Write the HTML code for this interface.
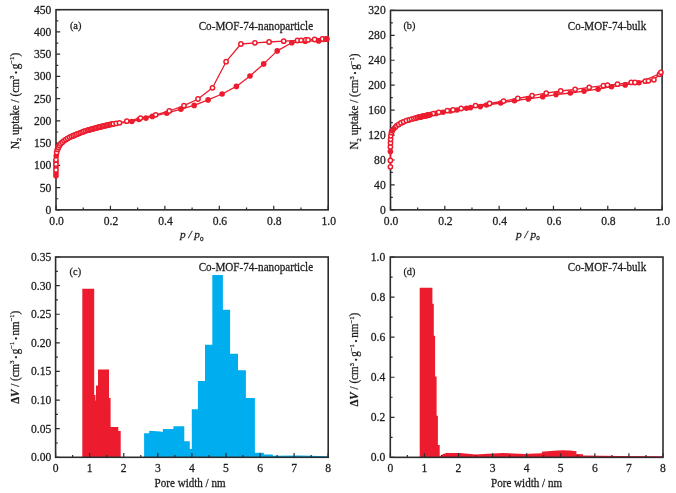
<!DOCTYPE html>
<html><head><meta charset="utf-8"><title>Figure</title>
<style>html,body{margin:0;padding:0;background:#fff}svg{display:block}text{stroke:#1c1c1c;stroke-width:.26px}</style></head>
<body>
<svg width="676" height="493" viewBox="0 0 676 493" font-family="'Liberation Serif', 'DejaVu Serif', serif" fill="#1c1c1c">
<rect width="676" height="493" fill="#fff"/>
<polygon points="82.3,457.3 82.3,288.8 94.2,288.8 94.2,395 95.5,395 95.5,400.5 96,400.5 96,385.5 98,385.5 98,369.4 109,369.4 109,398 110.6,398 110.6,427 118.3,427 118.3,431 120.7,431 120.7,457.3" fill="#ec1c2e"/>
<polygon points="144.1,457.3 144.1,433.3 149.2,433.3 149.2,430.8 160.6,431.4 160.6,431.8 162.9,431.8 162.9,429 173.4,429 173.4,426.2 184.3,426.2 184.3,441.2 189.8,441.2 189.8,449 191.8,449 191.8,409.3 197.9,409.3 197.9,380.9 205,380.9 205,344.7 212.3,344.7 212.3,275 222.9,275 222.9,309.7 230.1,309.7 230.1,353.8 238,353.8 238,370.3 245.9,370.3 245.9,398 254.9,398 254.9,452.8 263.8,452.8 263.8,454.4 272.8,454.4 272.8,455.8 300,455.6 328.2,456.2 328.2,457.3" fill="#00aeef"/>
<polygon points="419.7,457.35 419.7,287.8 432.4,287.8 432.4,303.8 433.8,303.8 433.8,335.8 435.1,335.8 435.1,376.4 436.6,376.4 436.6,415.7 437.9,415.7 437.9,445 439.7,445 439.7,456.2 440.9,456.2 442,454.6 446.4,452.9 460,452.9 468,453.8 475.5,454.5 488,453.8 502.8,453 514,453.5 524.6,454.1 535,453.6 541.9,453.2 541.9,451.8 553.8,450.7 562.4,450.3 570,450.6 576.4,451.2 576.4,454 583,454.2 583,455.6 620,455.9 663,456.2 663,457.35" fill="#ec1c2e"/>
<rect x="56" y="9.7" width="272.2" height="200.15" fill="none" stroke="#2a2c2f" stroke-width="1.6"/>
<rect x="390.5" y="10.4" width="271.6" height="199.45" fill="none" stroke="#2a2c2f" stroke-width="1.6"/>
<rect x="55.6" y="257" width="272.6" height="200.3" fill="none" stroke="#2a2c2f" stroke-width="1.6"/>
<rect x="390.3" y="257.05" width="272.7" height="200.3" fill="none" stroke="#2a2c2f" stroke-width="1.6"/>
<path d="M56 209.85V205.65M83.22 209.85V207.55M110.44 209.85V205.65M137.66 209.85V207.55M164.88 209.85V205.65M192.1 209.85V207.55M219.32 209.85V205.65M246.54 209.85V207.55M273.76 209.85V205.65M300.98 209.85V207.55M328.2 209.85V205.65M56 209.85H60.2M56 198.73H58.3M56 187.61H60.2M56 176.49H58.3M56 165.37H60.2M56 154.25H58.3M56 143.13H60.2M56 132.01H58.3M56 120.89H60.2M56 109.77H58.3M56 98.66H60.2M56 87.54H58.3M56 76.42H60.2M56 65.3H58.3M56 54.18H60.2M56 43.06H58.3M56 31.94H60.2M56 20.82H58.3M56 9.7H60.2" stroke="#2a2c2f" stroke-width="1.2" fill="none"/>
<text x="56.6" y="225.25" text-anchor="middle" font-size="11.6">0.0</text>
<text x="111.04" y="225.25" text-anchor="middle" font-size="11.6">0.2</text>
<text x="165.48" y="225.25" text-anchor="middle" font-size="11.6">0.4</text>
<text x="219.92" y="225.25" text-anchor="middle" font-size="11.6">0.6</text>
<text x="274.36" y="225.25" text-anchor="middle" font-size="11.6">0.8</text>
<text x="328.8" y="225.25" text-anchor="middle" font-size="11.6">1.0</text>
<text x="51.3" y="213.75" text-anchor="end" font-size="11.6">0</text>
<text x="51.3" y="191.51" text-anchor="end" font-size="11.6">50</text>
<text x="51.3" y="169.27" text-anchor="end" font-size="11.6">100</text>
<text x="51.3" y="147.03" text-anchor="end" font-size="11.6">150</text>
<text x="51.3" y="124.79" text-anchor="end" font-size="11.6">200</text>
<text x="51.3" y="102.56" text-anchor="end" font-size="11.6">250</text>
<text x="51.3" y="80.32" text-anchor="end" font-size="11.6">300</text>
<text x="51.3" y="58.08" text-anchor="end" font-size="11.6">350</text>
<text x="51.3" y="35.84" text-anchor="end" font-size="11.6">400</text>
<text x="51.3" y="13.6" text-anchor="end" font-size="11.6">450</text>
<path d="M390.5 209.85V205.65M417.66 209.85V207.55M444.82 209.85V205.65M471.98 209.85V207.55M499.14 209.85V205.65M526.3 209.85V207.55M553.46 209.85V205.65M580.62 209.85V207.55M607.78 209.85V205.65M634.94 209.85V207.55M662.1 209.85V205.65M390.5 209.85H394.7M390.5 197.38H392.8M390.5 184.92H394.7M390.5 172.45H392.8M390.5 159.99H394.7M390.5 147.52H392.8M390.5 135.06H394.7M390.5 122.59H392.8M390.5 110.12H394.7M390.5 97.66H392.8M390.5 85.19H394.7M390.5 72.73H392.8M390.5 60.26H394.7M390.5 47.8H392.8M390.5 35.33H394.7M390.5 22.87H392.8M390.5 10.4H394.7" stroke="#2a2c2f" stroke-width="1.2" fill="none"/>
<text x="391.1" y="225.25" text-anchor="middle" font-size="11.6">0.0</text>
<text x="445.42" y="225.25" text-anchor="middle" font-size="11.6">0.2</text>
<text x="499.74" y="225.25" text-anchor="middle" font-size="11.6">0.4</text>
<text x="554.06" y="225.25" text-anchor="middle" font-size="11.6">0.6</text>
<text x="608.38" y="225.25" text-anchor="middle" font-size="11.6">0.8</text>
<text x="662.7" y="225.25" text-anchor="middle" font-size="11.6">1.0</text>
<text x="385.7" y="213.75" text-anchor="end" font-size="11.6">0</text>
<text x="385.7" y="188.82" text-anchor="end" font-size="11.6">40</text>
<text x="385.7" y="163.89" text-anchor="end" font-size="11.6">80</text>
<text x="385.7" y="138.96" text-anchor="end" font-size="11.6">120</text>
<text x="385.7" y="114.03" text-anchor="end" font-size="11.6">160</text>
<text x="385.7" y="89.09" text-anchor="end" font-size="11.6">200</text>
<text x="385.7" y="64.16" text-anchor="end" font-size="11.6">240</text>
<text x="385.7" y="39.23" text-anchor="end" font-size="11.6">280</text>
<text x="385.7" y="14.3" text-anchor="end" font-size="11.6">320</text>
<path d="M55.6 457.3V453.1M72.64 457.3V455M89.67 457.3V453.1M106.71 457.3V455M123.75 457.3V453.1M140.79 457.3V455M157.82 457.3V453.1M174.86 457.3V455M191.9 457.3V453.1M208.94 457.3V455M225.97 457.3V453.1M243.01 457.3V455M260.05 457.3V453.1M277.09 457.3V455M294.12 457.3V453.1M311.16 457.3V455M328.2 457.3V453.1M55.6 457.3H59.8M55.6 442.99H57.9M55.6 428.69H59.8M55.6 414.38H57.9M55.6 400.07H59.8M55.6 385.76H57.9M55.6 371.46H59.8M55.6 357.15H57.9M55.6 342.84H59.8M55.6 328.54H57.9M55.6 314.23H59.8M55.6 299.92H57.9M55.6 285.61H59.8M55.6 271.31H57.9M55.6 257H59.8" stroke="#2a2c2f" stroke-width="1.2" fill="none"/>
<text x="55.6" y="471.8" text-anchor="middle" font-size="11.6">0</text>
<text x="89.67" y="471.8" text-anchor="middle" font-size="11.6">1</text>
<text x="123.75" y="471.8" text-anchor="middle" font-size="11.6">2</text>
<text x="157.82" y="471.8" text-anchor="middle" font-size="11.6">3</text>
<text x="191.9" y="471.8" text-anchor="middle" font-size="11.6">4</text>
<text x="225.97" y="471.8" text-anchor="middle" font-size="11.6">5</text>
<text x="260.05" y="471.8" text-anchor="middle" font-size="11.6">6</text>
<text x="294.12" y="471.8" text-anchor="middle" font-size="11.6">7</text>
<text x="328.2" y="471.8" text-anchor="middle" font-size="11.6">8</text>
<text x="51.3" y="461.2" text-anchor="end" font-size="11.6">0.00</text>
<text x="51.3" y="432.59" text-anchor="end" font-size="11.6">0.05</text>
<text x="51.3" y="403.97" text-anchor="end" font-size="11.6">0.10</text>
<text x="51.3" y="375.36" text-anchor="end" font-size="11.6">0.15</text>
<text x="51.3" y="346.74" text-anchor="end" font-size="11.6">0.20</text>
<text x="51.3" y="318.13" text-anchor="end" font-size="11.6">0.25</text>
<text x="51.3" y="289.51" text-anchor="end" font-size="11.6">0.30</text>
<text x="51.3" y="260.9" text-anchor="end" font-size="11.6">0.35</text>
<path d="M390.3 457.35V453.15M407.34 457.35V455.05M424.39 457.35V453.15M441.43 457.35V455.05M458.48 457.35V453.15M475.52 457.35V455.05M492.56 457.35V453.15M509.61 457.35V455.05M526.65 457.35V453.15M543.69 457.35V455.05M560.74 457.35V453.15M577.78 457.35V455.05M594.83 457.35V453.15M611.87 457.35V455.05M628.91 457.35V453.15M645.96 457.35V455.05M663 457.35V453.15M390.3 457.35H394.5M390.3 437.32H392.6M390.3 417.29H394.5M390.3 397.26H392.6M390.3 377.23H394.5M390.3 357.2H392.6M390.3 337.17H394.5M390.3 317.14H392.6M390.3 297.11H394.5M390.3 277.08H392.6M390.3 257.05H394.5" stroke="#2a2c2f" stroke-width="1.2" fill="none"/>
<text x="390.3" y="471.85" text-anchor="middle" font-size="11.6">0</text>
<text x="424.39" y="471.85" text-anchor="middle" font-size="11.6">1</text>
<text x="458.48" y="471.85" text-anchor="middle" font-size="11.6">2</text>
<text x="492.56" y="471.85" text-anchor="middle" font-size="11.6">3</text>
<text x="526.65" y="471.85" text-anchor="middle" font-size="11.6">4</text>
<text x="560.74" y="471.85" text-anchor="middle" font-size="11.6">5</text>
<text x="594.83" y="471.85" text-anchor="middle" font-size="11.6">6</text>
<text x="628.91" y="471.85" text-anchor="middle" font-size="11.6">7</text>
<text x="663" y="471.85" text-anchor="middle" font-size="11.6">8</text>
<text x="385.2" y="461.25" text-anchor="end" font-size="11.6">0.0</text>
<text x="385.2" y="421.19" text-anchor="end" font-size="11.6">0.2</text>
<text x="385.2" y="381.13" text-anchor="end" font-size="11.6">0.4</text>
<text x="385.2" y="341.07" text-anchor="end" font-size="11.6">0.6</text>
<text x="385.2" y="301.01" text-anchor="end" font-size="11.6">0.8</text>
<text x="385.2" y="260.95" text-anchor="end" font-size="11.6">1.0</text>
<g stroke="#ec1c2e" stroke-width="1.3" fill="none" stroke-linejoin="round">
<polyline points="55.95,175.7 55.95,165 56.05,158 56.65,152.5 57.6,149 58.7,146.6 60.1,144.3 62.2,142.3 64.6,140.3 67,138.8 69.5,137.4 71.9,136.2 74.3,135.3 76.4,134.4 78.4,133.6 82.5,132 85,131 90,129.6 95.7,128 101.2,126.6 107,125.2 113.4,123.9 131.8,121.5 139,119.5 146,118.1 152.3,116.4 166.8,113.2 180.9,109.2 194.2,105.4 208.1,99.9 222.1,94 236.4,86.4 250,76 263.7,63.9 277.2,50.9 291.8,42.8 305.2,41.2 318.7,40.8 323.6,39.5 326.8,38.9"/>
<polyline points="55.95,175.7 55.95,165 56.05,158 56.65,152.5 57.6,149 58.7,146.6 60.1,144.3 62.2,142.3 64.6,140.3 67,138.8 69.5,137.4 71.9,136.2 74.3,135.3 76.4,134.4 78.4,133.6 82.5,132 85,131 90,129.6 95.7,128 101.2,126.6 107,125.2 113.4,123.9 116.2,123.4 119.5,122.8 126.8,121.2 140.5,118.1 155.7,114.8 169.3,111 184,105.7 198,99 212.5,87.8 226.1,61.7 240.9,44 254.9,42.8 269.1,42 283.7,41.2 297.5,40.5 301.1,40.3 305.7,40 308.1,39.9 314.6,39.5 322.4,39 326,38.9"/>
</g>
<g fill="#ec1c2e">
<circle cx="55.95" cy="175.7" r="2.80"/>
<circle cx="55.95" cy="173" r="2.80"/>
<circle cx="55.95" cy="167.1" r="2.80"/>
<circle cx="56" cy="162" r="2.80"/>
<circle cx="56.2" cy="156" r="2.80"/>
<circle cx="57.48" cy="149.44" r="2.80"/>
<circle cx="59.38" cy="145.49" r="2.80"/>
<circle cx="62.28" cy="142.23" r="2.80"/>
<circle cx="65.77" cy="139.57" r="2.80"/>
<circle cx="69.58" cy="137.36" r="2.80"/>
<circle cx="73.31" cy="135.67" r="2.80"/>
<circle cx="76.82" cy="134.23" r="2.80"/>
<circle cx="80.36" cy="132.84" r="2.80"/>
<circle cx="83.89" cy="131.44" r="2.80"/>
<circle cx="87.51" cy="130.3" r="2.80"/>
<circle cx="90.21" cy="129.54" r="2.80"/>
<circle cx="92.9" cy="128.78" r="2.80"/>
<circle cx="95.6" cy="128.03" r="2.80"/>
<circle cx="98.31" cy="127.33" r="2.80"/>
<circle cx="101.03" cy="126.64" r="2.80"/>
<circle cx="103.75" cy="125.99" r="2.80"/>
<circle cx="106.47" cy="125.33" r="2.80"/>
<circle cx="109.21" cy="124.75" r="2.80"/>
<circle cx="111.95" cy="124.19" r="2.80"/>
<circle cx="131.8" cy="121.5" r="2.80"/>
<circle cx="139" cy="119.5" r="2.80"/>
<circle cx="146" cy="118.1" r="2.80"/>
<circle cx="152.3" cy="116.4" r="2.80"/>
<circle cx="166.8" cy="113.2" r="2.80"/>
<circle cx="180.9" cy="109.2" r="2.80"/>
<circle cx="194.2" cy="105.4" r="2.80"/>
<circle cx="208.1" cy="99.9" r="2.80"/>
<circle cx="222.1" cy="94" r="2.80"/>
<circle cx="236.4" cy="86.4" r="2.80"/>
<circle cx="250" cy="76" r="2.80"/>
<circle cx="263.7" cy="63.9" r="2.80"/>
<circle cx="277.2" cy="50.9" r="2.80"/>
<circle cx="291.8" cy="42.8" r="2.80"/>
<circle cx="305.2" cy="41.2" r="2.80"/>
<circle cx="318.7" cy="40.8" r="2.80"/>
<circle cx="323.6" cy="39.5" r="2.80"/>
<circle cx="326.8" cy="38.9" r="2.80"/>
</g>
<g fill="#fff" stroke="#ec1c2e" stroke-width="1.5">
<circle cx="55.95" cy="170" r="2.15"/>
<circle cx="55.95" cy="164.2" r="2.15"/>
<circle cx="56" cy="159.8" r="2.15"/>
<circle cx="56.65" cy="152.5" r="2.15"/>
<circle cx="57.48" cy="149.44" r="2.15"/>
<circle cx="58.32" cy="147.42" r="2.15"/>
<circle cx="59.38" cy="145.49" r="2.15"/>
<circle cx="60.68" cy="143.74" r="2.15"/>
<circle cx="62.28" cy="142.23" r="2.15"/>
<circle cx="63.97" cy="140.82" r="2.15"/>
<circle cx="65.77" cy="139.57" r="2.15"/>
<circle cx="67.66" cy="138.43" r="2.15"/>
<circle cx="69.58" cy="137.36" r="2.15"/>
<circle cx="71.55" cy="136.38" r="2.15"/>
<circle cx="73.31" cy="135.67" r="2.15"/>
<circle cx="75.07" cy="134.97" r="2.15"/>
<circle cx="76.82" cy="134.23" r="2.15"/>
<circle cx="78.59" cy="133.53" r="2.15"/>
<circle cx="80.36" cy="132.84" r="2.15"/>
<circle cx="82.13" cy="132.14" r="2.15"/>
<circle cx="83.89" cy="131.44" r="2.15"/>
<circle cx="85.68" cy="130.81" r="2.15"/>
<circle cx="87.51" cy="130.3" r="2.15"/>
<circle cx="88.86" cy="129.92" r="2.15"/>
<circle cx="90.21" cy="129.54" r="2.15"/>
<circle cx="91.56" cy="129.16" r="2.15"/>
<circle cx="92.9" cy="128.78" r="2.15"/>
<circle cx="94.25" cy="128.41" r="2.15"/>
<circle cx="95.6" cy="128.03" r="2.15"/>
<circle cx="96.96" cy="127.68" r="2.15"/>
<circle cx="98.31" cy="127.33" r="2.15"/>
<circle cx="99.67" cy="126.99" r="2.15"/>
<circle cx="101.03" cy="126.64" r="2.15"/>
<circle cx="102.39" cy="126.31" r="2.15"/>
<circle cx="103.75" cy="125.99" r="2.15"/>
<circle cx="105.11" cy="125.66" r="2.15"/>
<circle cx="106.47" cy="125.33" r="2.15"/>
<circle cx="107.84" cy="125.03" r="2.15"/>
<circle cx="109.21" cy="124.75" r="2.15"/>
<circle cx="110.58" cy="124.47" r="2.15"/>
<circle cx="111.95" cy="124.19" r="2.15"/>
<circle cx="113.33" cy="123.92" r="2.15"/>
<circle cx="116.2" cy="123.4" r="2.15"/>
<circle cx="119.5" cy="122.8" r="2.15"/>
<circle cx="126.8" cy="121.2" r="2.15"/>
<circle cx="140.5" cy="118.1" r="2.15"/>
<circle cx="155.7" cy="114.8" r="2.15"/>
<circle cx="169.3" cy="111" r="2.15"/>
<circle cx="184" cy="105.7" r="2.15"/>
<circle cx="198" cy="99" r="2.15"/>
<circle cx="212.5" cy="87.8" r="2.15"/>
<circle cx="226.1" cy="61.7" r="2.15"/>
<circle cx="240.9" cy="44" r="2.15"/>
<circle cx="254.9" cy="42.8" r="2.15"/>
<circle cx="269.1" cy="42" r="2.15"/>
<circle cx="283.7" cy="41.2" r="2.15"/>
<circle cx="297.5" cy="40.5" r="2.15"/>
<circle cx="301.1" cy="40.3" r="2.15"/>
<circle cx="305.7" cy="40" r="2.15"/>
<circle cx="308.1" cy="39.9" r="2.15"/>
<circle cx="314.6" cy="39.5" r="2.15"/>
<circle cx="322.4" cy="39" r="2.15"/>
<circle cx="326" cy="38.9" r="2.15"/>
</g>
<g fill="#ec1c2e"><circle cx="326.8" cy="38.9" r="2.80"/><circle cx="318.7" cy="40.8" r="2.80"/></g>
<g stroke="#ec1c2e" stroke-width="1.3" fill="none" stroke-linejoin="round">
<polyline points="390.4,166.8 390.4,160.5 390.4,146.9 390.5,142.9 390.6,139.3 390.8,135.8 391.4,132.7 395.4,127.1 398.7,124.4 401,122.9 403.6,121.8 406.3,120.6 409.4,119.8 411.6,119.1 413.9,118.6 415.9,118 417.7,117.5 419.16,117.15 420.62,116.81 422.08,116.46 423.54,116.11 425,115.78 426.46,115.45 427.93,115.12 429.39,114.79 433.2,113.6 438.8,112.3 447.3,110.7 453,109.9 461.2,108.5 475.5,105.6 489.6,103.5 503.6,101.1 517.8,98.5 532.1,95.6 546.2,93.2 560.7,91 575.1,89.3 589.2,87.4 603.4,85.7 607.5,85.1 617.5,84.2 631.2,82.4 635,82.5 645.3,81.2 648.4,80.8 653.9,79.8 659.5,74.3 660.9,72.3"/>
<polyline points="390.4,151.6 392,131 396.8,125.6 402.5,122.3 408,120.2 420,117.2 427,115.6 436,113.4 443,112.2 450.5,111 457,110 466.5,108.2 470.6,107.6 480.3,106.6 486.5,105 500.7,103 514.5,100.7 528.3,98.9 542.7,96.8 556,94.6 570.3,93 584,91.1 598.1,89.2 611.5,86.7 625.2,84.9 638.9,82.7 660.4,73.5"/>
</g>
<g fill="#ec1c2e">
<circle cx="390.4" cy="151.6" r="2.80"/>
<circle cx="392" cy="131" r="2.80"/>
<circle cx="396.8" cy="125.6" r="2.80"/>
<circle cx="402.5" cy="122.3" r="2.80"/>
<circle cx="408" cy="120.2" r="2.80"/>
<circle cx="420" cy="117.2" r="2.80"/>
<circle cx="427" cy="115.6" r="2.80"/>
<circle cx="436" cy="113.4" r="2.80"/>
<circle cx="443" cy="112.2" r="2.80"/>
<circle cx="450.5" cy="111" r="2.80"/>
<circle cx="457" cy="110" r="2.80"/>
<circle cx="466.5" cy="108.2" r="2.80"/>
<circle cx="470.6" cy="107.6" r="2.80"/>
<circle cx="480.3" cy="106.6" r="2.80"/>
<circle cx="486.5" cy="105" r="2.80"/>
<circle cx="500.7" cy="103" r="2.80"/>
<circle cx="514.5" cy="100.7" r="2.80"/>
<circle cx="528.3" cy="98.9" r="2.80"/>
<circle cx="542.7" cy="96.8" r="2.80"/>
<circle cx="556" cy="94.6" r="2.80"/>
<circle cx="570.3" cy="93" r="2.80"/>
<circle cx="584" cy="91.1" r="2.80"/>
<circle cx="598.1" cy="89.2" r="2.80"/>
<circle cx="611.5" cy="86.7" r="2.80"/>
<circle cx="625.2" cy="84.9" r="2.80"/>
<circle cx="638.9" cy="82.7" r="2.80"/>
<circle cx="660.4" cy="73.5" r="2.80"/>
</g>
<g fill="#fff" stroke="#ec1c2e" stroke-width="1.5">
<circle cx="390.4" cy="166.8" r="2.15"/>
<circle cx="390.4" cy="160.5" r="2.15"/>
<circle cx="390.4" cy="146.9" r="2.15"/>
<circle cx="390.5" cy="142.9" r="2.15"/>
<circle cx="390.6" cy="139.3" r="2.15"/>
<circle cx="390.8" cy="135.8" r="2.15"/>
<circle cx="391.4" cy="132.7" r="2.15"/>
<circle cx="395.4" cy="127.1" r="2.15"/>
<circle cx="398.7" cy="124.4" r="2.15"/>
<circle cx="401" cy="122.9" r="2.15"/>
<circle cx="403.6" cy="121.8" r="2.15"/>
<circle cx="406.3" cy="120.6" r="2.15"/>
<circle cx="409.4" cy="119.8" r="2.15"/>
<circle cx="411.6" cy="119.1" r="2.15"/>
<circle cx="413.9" cy="118.6" r="2.15"/>
<circle cx="415.9" cy="118" r="2.15"/>
<circle cx="417.7" cy="117.5" r="2.15"/>
<circle cx="419.16" cy="117.15" r="2.15"/>
<circle cx="420.62" cy="116.81" r="2.15"/>
<circle cx="422.08" cy="116.46" r="2.15"/>
<circle cx="423.54" cy="116.11" r="2.15"/>
<circle cx="425" cy="115.78" r="2.15"/>
<circle cx="426.46" cy="115.45" r="2.15"/>
<circle cx="427.93" cy="115.12" r="2.15"/>
<circle cx="429.39" cy="114.79" r="2.15"/>
<circle cx="433.2" cy="113.6" r="2.15"/>
<circle cx="438.8" cy="112.3" r="2.15"/>
<circle cx="447.3" cy="110.7" r="2.15"/>
<circle cx="453" cy="109.9" r="2.15"/>
<circle cx="461.2" cy="108.5" r="2.15"/>
<circle cx="475.5" cy="105.6" r="2.15"/>
<circle cx="489.6" cy="103.5" r="2.15"/>
<circle cx="503.6" cy="101.1" r="2.15"/>
<circle cx="517.8" cy="98.5" r="2.15"/>
<circle cx="532.1" cy="95.6" r="2.15"/>
<circle cx="546.2" cy="93.2" r="2.15"/>
<circle cx="560.7" cy="91" r="2.15"/>
<circle cx="575.1" cy="89.3" r="2.15"/>
<circle cx="589.2" cy="87.4" r="2.15"/>
<circle cx="603.4" cy="85.7" r="2.15"/>
<circle cx="607.5" cy="85.1" r="2.15"/>
<circle cx="617.5" cy="84.2" r="2.15"/>
<circle cx="631.2" cy="82.4" r="2.15"/>
<circle cx="635" cy="82.5" r="2.15"/>
<circle cx="645.3" cy="81.2" r="2.15"/>
<circle cx="648.4" cy="80.8" r="2.15"/>
<circle cx="653.9" cy="79.8" r="2.15"/>
<circle cx="659.5" cy="74.3" r="2.15"/>
<circle cx="660.9" cy="72.3" r="2.15"/>
</g>
<g fill="#ec1c2e">
<circle cx="392.2" cy="130.7" r="2.80"/>
<circle cx="393.7" cy="128.7" r="2.80"/>
<circle cx="419.5" cy="117.1" r="2.80"/>
<circle cx="421.25" cy="116.67" r="2.80"/>
<circle cx="423" cy="116.25" r="2.80"/>
<circle cx="424.75" cy="115.83" r="2.80"/>
<circle cx="426.5" cy="115.43" r="2.80"/>
<circle cx="428.26" cy="115.04" r="2.80"/>
<circle cx="430.02" cy="114.64" r="2.80"/>
</g>
<text x="69.9" y="28.8" font-size="10.9" textLength="11.6" lengthAdjust="spacingAndGlyphs">(a)</text>
<text x="403.4" y="29.0" font-size="10.9" textLength="12" lengthAdjust="spacingAndGlyphs">(b)</text>
<text x="69.6" y="274.6" font-size="10.9" textLength="11.5" lengthAdjust="spacingAndGlyphs">(c)</text>
<text x="403.4" y="274.6" font-size="10.9" textLength="12" lengthAdjust="spacingAndGlyphs">(d)</text>
<text x="198.7" y="29.9" font-size="11.8" textLength="114.4" lengthAdjust="spacingAndGlyphs">Co-MOF-74-nanoparticle</text>
<text x="567.8" y="29.8" font-size="11.8" textLength="78.4" lengthAdjust="spacingAndGlyphs">Co-MOF-74-bulk</text>
<text x="198.7" y="271.4" font-size="11.8" textLength="114.4" lengthAdjust="spacingAndGlyphs">Co-MOF-74-nanoparticle</text>
<text x="567.8" y="271.4" font-size="11.8" textLength="78.4" lengthAdjust="spacingAndGlyphs">Co-MOF-74-bulk</text>
<text transform="translate(18.5 149.3) rotate(-90)" font-size="11.8" textLength="96.5" lengthAdjust="spacingAndGlyphs">N<tspan font-size="7.0" dy="2.8">2</tspan><tspan dy="-2.8"> uptake / (cm</tspan><tspan font-size="7.0" dy="-4.2">3</tspan><tspan font-size="9" dy="4.4"> • </tspan><tspan dy="-0.2">g</tspan><tspan font-size="7.0" dy="-4.2">−1</tspan><tspan dy="4.2">)</tspan></text>
<text transform="translate(358.2 149.5) rotate(-90)" font-size="11.8" textLength="96" lengthAdjust="spacingAndGlyphs">N<tspan font-size="7.0" dy="2.8">2</tspan><tspan dy="-2.8"> uptake / (cm</tspan><tspan font-size="7.0" dy="-4.2">3</tspan><tspan font-size="9" dy="4.4"> • </tspan><tspan dy="-0.2">g</tspan><tspan font-size="7.0" dy="-4.2">−1</tspan><tspan dy="4.2">)</tspan></text>
<text transform="translate(18.5 403.8) rotate(-90)" font-size="11.8" textLength="93.1" lengthAdjust="spacingAndGlyphs"><tspan font-weight="bold">Δ</tspan><tspan font-weight="bold" font-style="italic">V</tspan> / (cm<tspan font-size="7.0" dy="-4.2">3</tspan><tspan font-size="9" dy="4.4"> • </tspan><tspan dy="-0.2">g</tspan><tspan font-size="7.0" dy="-4.2">−1</tspan><tspan font-size="9" dy="4.4"> • </tspan><tspan dy="-0.2">nm</tspan><tspan font-size="7.0" dy="-4.2">−1</tspan><tspan dy="4.2">)</tspan></text>
<text transform="translate(358.3 406.6) rotate(-90)" font-size="11.8" textLength="93.8" lengthAdjust="spacingAndGlyphs"><tspan font-weight="bold">Δ</tspan><tspan font-weight="bold" font-style="italic">V</tspan> / (cm<tspan font-size="7.0" dy="-4.2">3</tspan><tspan font-size="9" dy="4.4"> • </tspan><tspan dy="-0.2">g</tspan><tspan font-size="7.0" dy="-4.2">−1</tspan><tspan font-size="9" dy="4.4"> • </tspan><tspan dy="-0.2">nm</tspan><tspan font-size="7.0" dy="-4.2">−1</tspan><tspan dy="4.2">)</tspan></text>
<text x="180" y="238.3" font-size="11.2" font-style="italic" textLength="23.5" lengthAdjust="spacingAndGlyphs">p / p<tspan font-size="7.0" dy="2.6" font-style="normal">0</tspan></text>
<text x="516" y="237.7" font-size="11.2" font-style="italic" textLength="23.8" lengthAdjust="spacingAndGlyphs">p / p<tspan font-size="7.0" dy="2.6" font-style="normal">0</tspan></text>
<text x="154.6" y="486.7" font-size="11.8" textLength="71" lengthAdjust="spacingAndGlyphs">Pore width / nm</text>
<text x="491" y="486.7" font-size="11.8" textLength="71.1" lengthAdjust="spacingAndGlyphs">Pore width / nm</text>
</svg>
</body></html>
